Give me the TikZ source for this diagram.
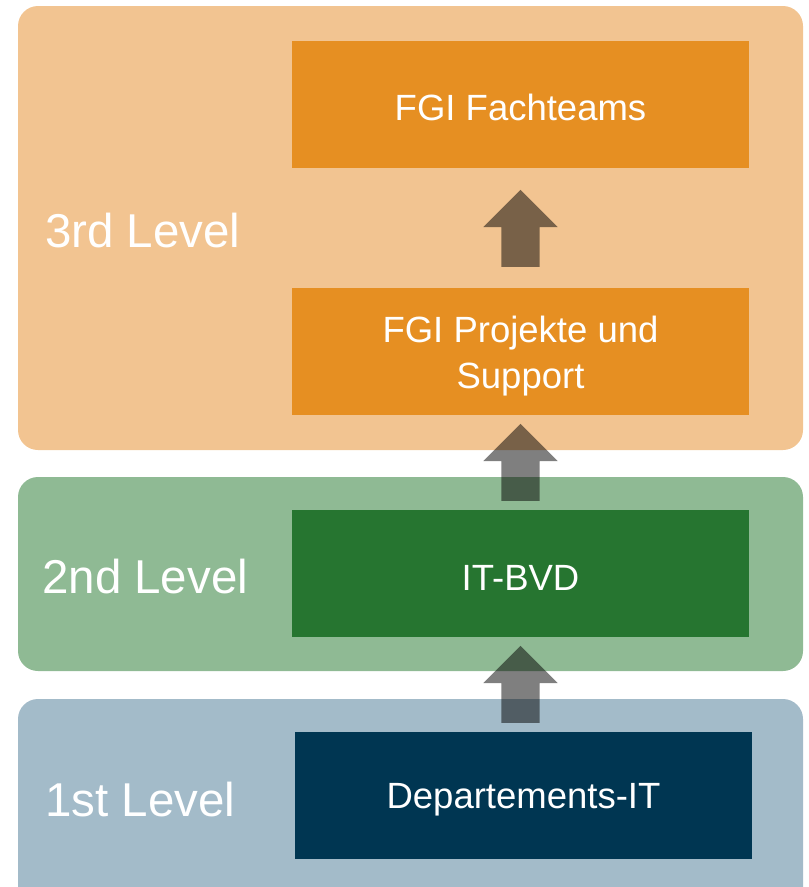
\documentclass[tikz,border=0pt]{standalone}
\usepackage{fontspec}
\setmainfont{Liberation Sans}
\usetikzlibrary{positioning,shapes.arrows,calc}
\definecolor{lvlthree}{HTML}{F2C491}
\definecolor{lvltwo}{HTML}{8FBA94}
\definecolor{lvlone}{HTML}{A3BBC9}
\definecolor{fgiorange}{HTML}{E68F22}
\definecolor{bvdgreen}{HTML}{267530}
\definecolor{deptblue}{HTML}{003652}

\begin{document}
\begin{tikzpicture}[x=1pt,y=-1pt,
  box/.style={rectangle,minimum width=457pt,minimum height=127pt,inner sep=0pt,outer sep=0pt,
    text=white,align=center,font=\fontsize{36.5}{46}\selectfont,text height=33pt,node distance=95pt},
  band/.style={rectangle,rounded corners=20pt,minimum width=785pt,inner sep=0pt,outer sep=0pt},
  lvl/.style={text=white,font=\fontsize{47.5}{56}\selectfont,inner sep=0pt,anchor=west},
  up/.style={single arrow,shape border rotate=90,fill=black,fill opacity=0.5,inner sep=19pt,
    single arrow head extend=18pt,minimum height=77pt,anchor=tail}]

\clip (0,0) rectangle (809,887);

% the three levels
\node[band,fill=lvlthree,minimum height=444pt] (L3) at (410.5,228) {};
\node[band,fill=lvltwo,minimum height=194pt] (L2) at (410.5,574) {};
\node[band,fill=lvlone,minimum height=210pt] (L1) at (410.5,804) {};

% teams
\node[box,fill=fgiorange] (fach) at (520.5,104.5) {FGI Fachteams};
\node[box,fill=fgiorange,below=120pt of fach,text height=82pt] (proj) {FGI Projekte und\\Support};
\node[box,fill=bvdgreen,below=of proj] (bvd) {IT-BVD};
\node[box,fill=deptblue,below=of bvd,xshift=3pt] (dept) {Departements-IT};

\node[lvl] (t3) at ($(L3.west)+(27,3)$) {3rd Level};
\node[lvl] (t2) at ($(L2.west)+(24,3)$) {2nd Level};
\node[lvl] (t1) at ($(L1.west |- dept)+(27,4)$) {1st Level};

% escalation
\node[up] (a1) at ($(fach.south |- proj.north)+(0,-21)$) {};
\node[up] (a2) at ($(proj.south |- bvd.north)+(0,-9)$) {};
\node[up] (a3) at ($(bvd.south |- dept.north)+(0,-9)$) {};
\end{tikzpicture}
\end{document}
